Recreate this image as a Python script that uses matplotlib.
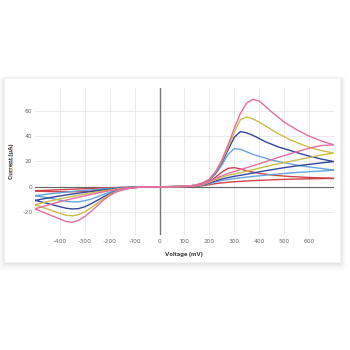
import matplotlib.pyplot as plt
from matplotlib.patches import FancyBboxPatch

# sample voltages (mV) shared by every sweep
voltage = [-500, -475, -450, -425, -400, -375, -350, -325, -300, -275,
           -250, -225, -200, -175, -150, -125, -100, -75, -50, -25,
           0, 25, 50, 75, 100, 125, 150, 175, 200, 225,
           250, 275, 300, 325, 350, 375, 400, 425, 450, 475,
           500, 525, 550, 575, 600, 625, 650, 675, 700]

# forward sweep (-500 -> 700) and reverse sweep (700 -> -500), current in uA
red_fwd = [-3.2, -3, -2.8, -2.6, -2.4, -2.2, -2, -1.8, -1.6, -1.4, -1.2, -1, -0.8, -0.65, -0.5, -0.35, -0.25, -0.15, -0.1, -0.05, 0,
           0, 0.05, 0.1, 0.2, 0.4, 0.8, 2, 4, 7.5, 11.5, 14.5, 15, 14, 12.5, 11.5, 10.5, 9.8, 9.2, 8.8, 8.4, 8, 7.8, 7.5, 7.3, 7.1, 6.9, 6.7, 6.5]
red_rev = [-3.2, -3.5, -3.8, -3.9, -4, -4, -4, -3.9, -3.8, -3.5, -3.2, -2.7, -2.2, -1.7, -1.2, -0.8, -0.5, -0.3, -0.15, -0.05, 0,
           0, 0.02, 0.05, 0.1, 0.15, 0.3, 0.8, 1.6, 2.4, 3, 3.5, 3.9, 4.2, 4.5, 4.8, 5, 5.2, 5.4, 5.6, 5.8, 5.9, 6, 6.1, 6.2, 6.3, 6.4, 6.5, 6.5]

lblue_fwd = [-7.1, -6.5, -5.9, -5.3, -4.8, -4.3, -3.8, -3.3, -2.9, -2.5, -2.1, -1.7, -1.3, -1, -0.7, -0.45, -0.3, -0.15, -0.05, 0, 0,
             0, 0.05, 0.15, 0.3, 0.7, 1.4, 2.7, 5, 10, 17, 25.5, 30, 29.5, 27.5, 25.5, 24, 22.5, 21, 20, 19, 18, 17, 16.3, 15.6, 15, 14.4, 13.7, 13]
lblue_rev = [-7.1, -7.9, -8.7, -9.6, -10.6, -11.5, -12, -11.9, -11.1, -9.8, -8, -6.1, -4.3, -2.9, -1.8, -1.1, -0.6, -0.3, -0.1, 0, 0,
             0, 0.05, 0.1, 0.15, 0.25, 0.5, 1.2, 2.4, 3.7, 4.8, 5.7, 6.4, 7, 7.6, 8.1, 8.6, 9.1, 9.6, 10, 10.4, 10.8, 11.2, 11.5, 11.8, 12.1, 12.4, 12.7, 13]

dblue_fwd = [-10.8, -9.9, -9, -8.1, -7.3, -6.5, -5.8, -5.1, -4.4, -3.8, -3.1, -2.5, -2, -1.5, -1, -0.65, -0.4, -0.2, -0.1, 0, 0,
             0, 0.05, 0.15, 0.3, 0.7, 1.5, 2.9, 5.5, 11, 19, 29, 39, 43.5, 42.5, 40.5, 38, 35.5, 33.5, 31.5, 30, 28.5, 27, 25.5, 24.2, 23, 21.8, 20.8, 19.8]
dblue_rev = [-10.8, -12, -13.2, -14.5, -15.8, -17, -17.6, -17.3, -15.8, -13.5, -10.8, -8, -5.5, -3.5, -2.2, -1.3, -0.7, -0.35, -0.15, -0.05, 0,
             0, 0.05, 0.1, 0.2, 0.3, 0.6, 1.4, 3, 4.6, 6, 7.2, 8.2, 9, 9.9, 10.8, 11.7, 12.6, 13.4, 14.2, 15, 15.7, 16.4, 17, 17.6, 18.2, 18.8, 19.3, 19.8]

yellow_fwd = [-14.2, -13, -11.8, -10.7, -9.6, -8.6, -7.6, -6.7, -5.8, -4.9, -4.1, -3.3, -2.6, -1.9, -1.3, -0.85, -0.5, -0.25, -0.1, 0, 0,
              0, 0.05, 0.15, 0.3, 0.7, 1.5, 3, 5.8, 11.5, 20, 31, 43, 53, 55, 53.5, 51, 48, 45, 42, 39.5, 37, 35, 33, 31.2, 29.8, 28.5, 27.5, 26.5]
yellow_rev = [-14.2, -15.9, -17.6, -19.3, -21, -22.6, -23, -22, -19.8, -16.6, -13, -9.3, -6.2, -3.9, -2.4, -1.4, -0.75, -0.35, -0.15, -0.05, 0,
              0, 0.05, 0.1, 0.2, 0.35, 0.7, 1.7, 3.5, 5.5, 7.5, 9, 10, 11, 12.2, 13.4, 14.6, 15.8, 17, 18, 19, 20, 21, 22, 23, 24, 25, 25.8, 26.5]

pink_fwd = [-17.5, -16, -14.6, -13.2, -11.8, -10.6, -9.4, -8.3, -7.2, -6.1, -5.1, -4.1, -3.2, -2.3, -1.6, -1, -0.6, -0.3, -0.15, -0.05, 0,
            0, 0.05, 0.15, 0.3, 0.7, 1.6, 3.2, 6, 12, 21, 33, 46, 58, 66, 69, 67.5, 63.5, 59, 55, 51, 48, 45, 42.5, 40, 38, 36, 34.5, 33]
pink_rev = [-17.5, -19.5, -21.5, -23.5, -25.5, -27.5, -28, -26.5, -23.5, -19.5, -15, -10.5, -7, -4.3, -2.6, -1.5, -0.8, -0.4, -0.2, -0.1, 0,
            0, 0.05, 0.1, 0.2, 0.4, 0.8, 2, 4, 6.5, 8.5, 10.5, 12, 13.5, 15, 16.5, 18, 19.7, 21.3, 23, 24.5, 26, 27.5, 29, 30.3, 31.5, 32.5, 32.8, 33]

x_ticks = [-400, -300, -200, -100, 0, 100, 200, 300, 400, 500, 600]
y_ticks = [-20, 0, 20, 40, 60]

loops = [(red_fwd, red_rev, '#d04448'),
         (lblue_fwd, lblue_rev, '#6aa3dc'),
         (dblue_fwd, dblue_rev, '#34479c'),
         (yellow_fwd, yellow_rev, '#cbbc4c'),
         (pink_fwd, pink_rev, '#e66ea2')]

plt.rcParams['font.family'] = ['Inter', 'DejaVu Sans']
plt.rcParams['axes.unicode_minus'] = False
fig = plt.figure(figsize=(3.5, 3.5), dpi=100)
fig.patch.set_facecolor('white')

# card with soft shadow
for i, a in enumerate([0.012, 0.016, 0.02, 0.025, 0.03]):
    off = 0.003 * (5 - i)
    sh = FancyBboxPatch((0.013, 0.249 - off * 0.5), 0.96, 0.526, boxstyle='round,pad=%f,rounding_size=0.01' % off,
                        transform=fig.transFigure, facecolor='black', edgecolor='none', alpha=a, zorder=0)
    fig.add_artist(sh)
card = FancyBboxPatch((0.011, 0.251), 0.96, 0.526, boxstyle='square,pad=0', transform=fig.transFigure,
                      facecolor='white', edgecolor='#f2f2f2', linewidth=0.5, zorder=1)
fig.add_artist(card)

ax = fig.add_axes([0.1, 0.329, 0.854, 0.42], zorder=2)
ax.set_facecolor('none')

for fwd, rev, col in loops:
    ax.plot(voltage + voltage[::-1], fwd + rev[::-1], color=col, lw=1.0, zorder=3)

ax.axhline(0, color='#666666', lw=0.8, zorder=2)
ax.axvline(0, color='#777777', lw=1.0, zorder=2)

ax.set_xlim(-500, 700)
ax.set_ylim(-38, 78)
ax.set_xticks(x_ticks)
ax.set_yticks(y_ticks)
ax.grid(True, color='#e8e8e8', lw=0.6)
ax.set_axisbelow(True)
for s in ax.spines.values():
    s.set_visible(False)
ax.tick_params(length=0, labelsize=4.3, colors='#6a6a6a', pad=3)
ax.tick_params(axis='y', pad=2)
ax.set_xlabel('Voltage (mV)', fontsize=4.2, fontweight='bold', color='#3a3a3a', labelpad=6)
ax.set_ylabel('Current (µA)', fontsize=4.2, fontweight='bold', color='#3a3a3a', labelpad=6)

# faint colour strip next to the y label
for k, (fwd, rev, col) in enumerate(loops):
    y0 = 0.58 - k * 0.017
    fig.add_artist(plt.Line2D([0.033, 0.033], [y0, y0 - 0.015], color=col, lw=1.2, alpha=0.4,
                              transform=fig.transFigure, zorder=3))

fig.savefig('out.png', dpi=100)
